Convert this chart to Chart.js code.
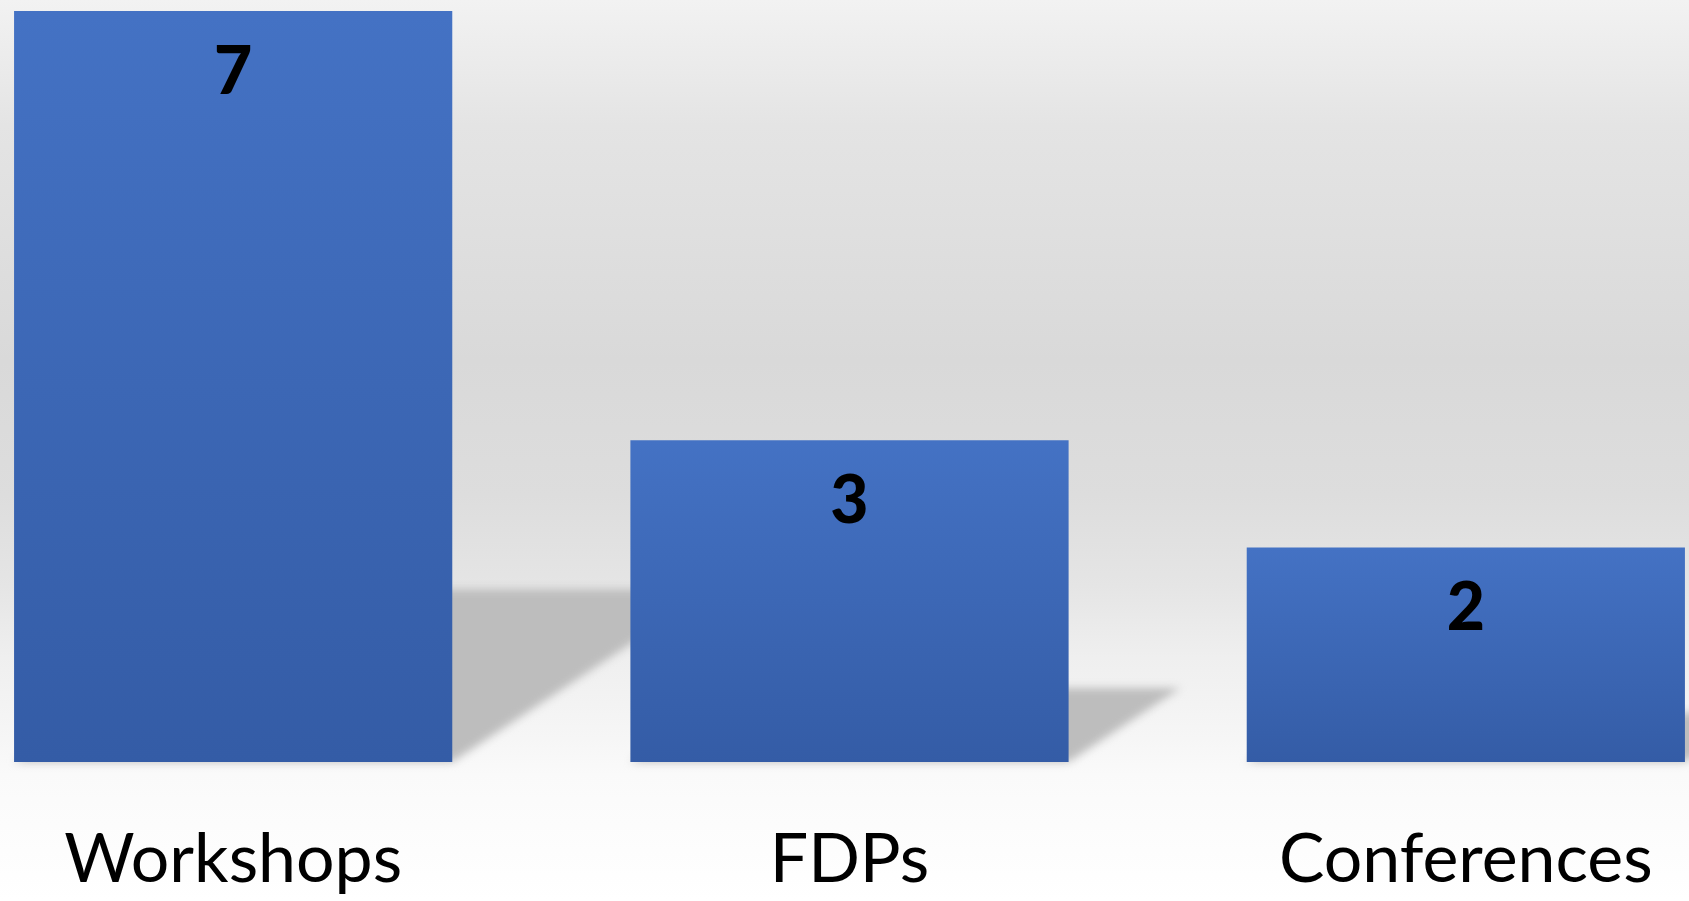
<!DOCTYPE html>
<html>
<head>
<meta charset="utf-8">
<title>Events</title>
<script src="https://cdn.jsdelivr.net/npm/chart.js@4.4.1/dist/chart.umd.min.js"></script>
<style>
    html, body {
        margin: 0;
        padding: 0;
        width: 1689px;
        height: 901px;
        overflow: hidden;
    }
    body {
        background: linear-gradient(to bottom,
            #f2f2f2 0%, #e4e4e4 14%, #d9d9d9 40%, #dddddd 55%,
            #e5e5e5 65%, #efefef 73%, #f6f6f6 82%, #fafafa 86%, #ffffff 100%);
    }
    /* plot area is wider than the window: first and last bars touch the edges */
    .chart-wrap {
        position: absolute;
        left: -75px;
        top: 0;
        width: 1849px;
        height: 901px;
    }
</style>
</head>
<body>
<div class="chart-wrap"><canvas id="eventsChart"></canvas></div>
<script>
// ---- data ----
const categories = ['Workshops', 'FDPs', 'Conferences'];
const counts = [7, 3, 2];
const yMin = 0;
const yMax = 7;

const FONT = 'Lato, "Open Sans", sans-serif';

/* Vertical gradient for one bar, from its top down to the baseline */
function barGradient(context) {
    const chart = context.chart;
    const ys = chart.scales.y;
    if (!ys || context.dataIndex === undefined) return '#4472c4';
    const top = ys.getPixelForValue(counts[context.dataIndex]);
    const base = ys.getPixelForValue(yMin);
    if (!isFinite(top) || !isFinite(base) || top === base) return '#4472c4';
    const g = chart.ctx.createLinearGradient(0, top, 0, base);
    g.addColorStop(0, '#4472c4');
    g.addColorStop(1, '#345ca6');
    return g;
}

/* Floor shadow cast to the right of each bar */
const floorShadow = {
    id: 'floorShadow',
    beforeDatasetsDraw(chart) {
        const ctx = chart.ctx;
        const meta = chart.getDatasetMeta(0);
        ctx.save();
        ctx.filter = 'blur(4px)';
        ctx.fillStyle = '#bdbdbd';
        meta.data.forEach(bar => {
            const half = bar.width / 2;
            const h = bar.base - bar.y;
            const sh = h * 0.23;
            const dx = sh * 1.51;
            ctx.beginPath();
            ctx.moveTo(bar.x - half, bar.base);
            ctx.lineTo(bar.x + half, bar.base);
            ctx.lineTo(bar.x + half + dx, bar.base - sh);
            ctx.lineTo(bar.x - half + dx, bar.base - sh);
            ctx.closePath();
            ctx.fill();
        });
        ctx.restore();
    }
};

/* Heavy value near the top of each bar */
const valueLabels = {
    id: 'valueLabels',
    afterDatasetsDraw(chart) {
        const ctx = chart.ctx;
        const meta = chart.getDatasetMeta(0);
        ctx.save();
        ctx.font = '900 66px ' + FONT;
        ctx.fillStyle = '#000000';
        ctx.textAlign = 'center';
        ctx.textBaseline = 'alphabetic';
        meta.data.forEach((bar, i) => {
            ctx.fillText(String(counts[i]), bar.x, bar.y + 83);
        });
        ctx.restore();
    }
};

new Chart(document.getElementById('eventsChart'), {
    type: 'bar',
    data: {
        labels: categories,
        datasets: [{
            data: counts,
            backgroundColor: barGradient,
            borderWidth: 0,
            barPercentage: 0.711,
            categoryPercentage: 1
        }]
    },
    options: {
        responsive: true,
        maintainAspectRatio: false,
        animation: false,
        layout: { padding: { top: 11, left: 0, right: 0, bottom: 0 } },
        plugins: {
            legend: { display: false },
            tooltip: { enabled: false }
        },
        scales: {
            x: {
                grid: { display: false },
                border: { display: false },
                ticks: {
                    color: '#000000',
                    padding: 49,
                    font: { family: FONT, size: 68 }
                },
                afterFit(scale) { scale.height = 139; }
            },
            y: {
                display: false,
                min: yMin,
                max: yMax
            }
        }
    },
    plugins: [floorShadow, valueLabels]
});
</script>
</body>
</html>
